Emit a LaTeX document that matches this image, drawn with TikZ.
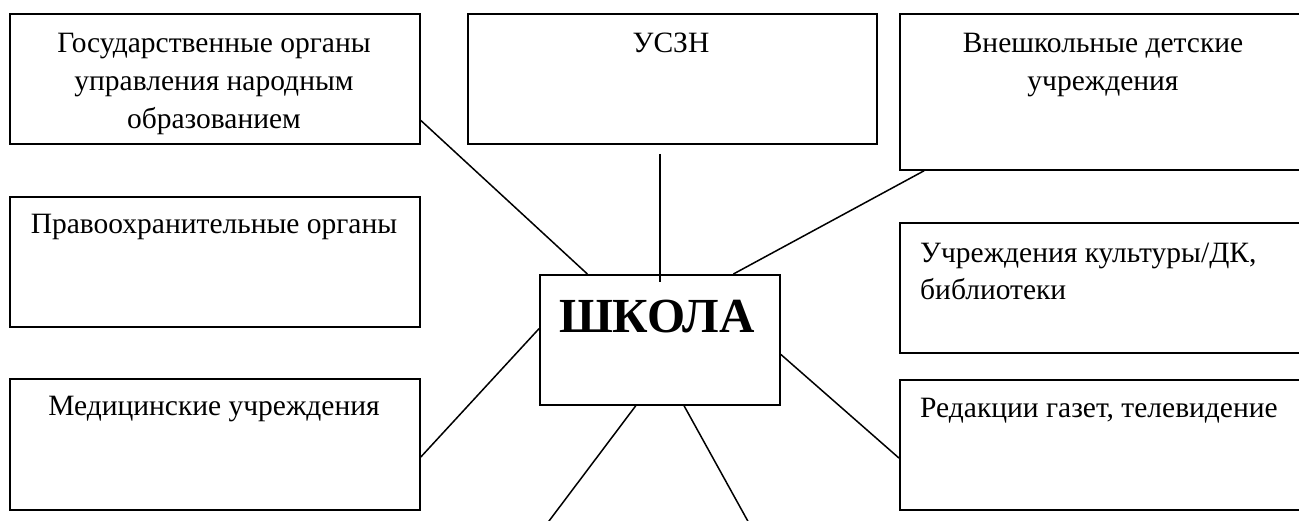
\documentclass[tikz,border=0pt]{standalone}
\usepackage{fontspec}
\setmainfont{Liberation Serif}
\usetikzlibrary{calc}
\begin{document}
\begin{tikzpicture}[x=1pt,y=-1pt,
  box/.style={draw,line width=1.8pt,rectangle,inner sep=0pt,anchor=north west},
  link/.style={line width=1.5pt},
  txt/.style={font=\fontsize{29.5}{38}\selectfont,inner sep=0pt,align=center,anchor=base},
  ltxt/.style={font=\fontsize{29.5}{37}\selectfont,inner sep=0pt,align=left,anchor=base west},
  big/.style={font=\fontsize{49}{58}\selectfont\bfseries,inner sep=0pt,anchor=base}]
\clip (0,0) rectangle (1299,520);
\fill[white] (0,0) rectangle (1299,520);
% boxes
\node[box,minimum width=410pt,minimum height=130pt] (gov) at (9,13) {};
\node[box,minimum width=409pt,minimum height=130pt] (usz) at (467,13) {};
\node[box,minimum width=420pt,minimum height=156pt] (vnesh) at (899,13) {};
\node[box,minimum width=410pt,minimum height=130pt] (pravo) at (9,196) {};
\node[box,minimum width=410pt,minimum height=131pt] (med) at (9,378) {};
\node[box,minimum width=240pt,minimum height=130pt] (school) at (539,274) {};
\node[box,minimum width=420pt,minimum height=130pt] (cult) at (899,222) {};
\node[box,minimum width=420pt,minimum height=130pt] (red) at (899,379) {};
% texts (base anchor = baseline of the last line)
\node[txt] (govt) at (214,128) {Государственные органы\\управления народным\\образованием};
\node[txt] (uszt) at (671,52) {УСЗН};
\node[txt] (vnesht) at (1103,90) {Внешкольные детские\\учреждения};
\node[txt] (pravot) at (214,233) {Правоохранительные органы};
\node[txt] (medt) at (214,415) {Медицинские учреждения};
\node[big] (schoolt) at (657,332) {ШКОЛА};
\node[ltxt] (cultt) at (920,299) {Учреждения культуры/ДК,\\библиотеки};
\node[ltxt] (redt) at (920,417) {Редакции газет, телевидение};
% connectors
\draw[link] ($(gov.north east)!0.815!(gov.south east)$) -- ($(school.north west)!0.2!(school.north east)$);
\draw[link] ($(usz.south -| school.north)+(0,9)$) -- ($(school.north)+(0,8)$);
\draw[link] ($(vnesh.south west)+(25,0)$) -- ($(school.north west)!0.804!(school.north east)$);
\draw[link] ($(med.north east)!0.595!(med.south east)$) -- ($(school.north west)!0.415!(school.south west)$);
\draw[link] ($(school.north east)!0.61!(school.south east)$) -- ($(red.north west)!0.6!(red.south west)$);
\coordinate (d1) at (546,525);
\coordinate (d2) at (750,525);
\draw[link] ($(school.south west)!0.4!(school.south east)$) -- (d1);
\draw[link] ($(school.south west)!0.6!(school.south east)$) -- (d2);
\end{tikzpicture}
\end{document}
